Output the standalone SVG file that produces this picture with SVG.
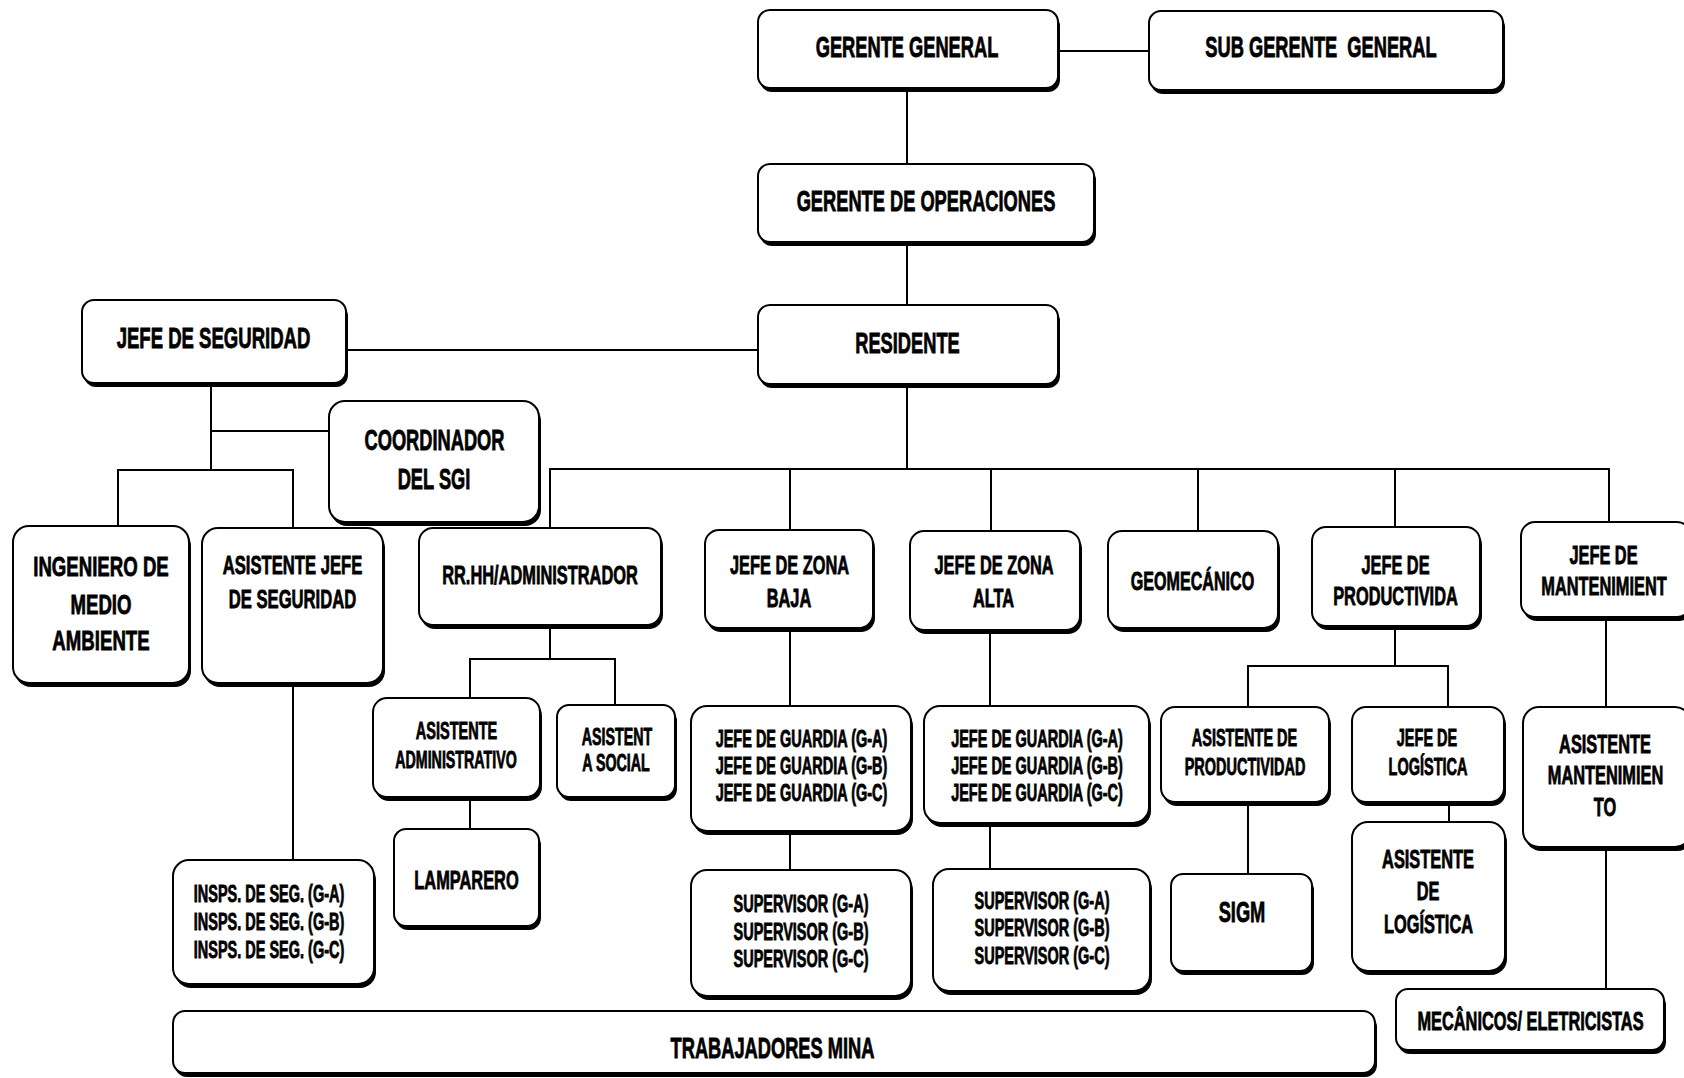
<svg xmlns="http://www.w3.org/2000/svg" width="1684" height="1078" viewBox="0 0 1684 1078">
<style>
.sh{fill:#000}
.bx{fill:#fff;stroke:#000;stroke-width:2}
.cn line{stroke:#000;stroke-width:2}
text{font-family:"Liberation Sans",Arial,sans-serif;font-weight:bold;fill:#000;stroke:#000;stroke-width:0.8;text-anchor:middle}
.L{font-size:29px}
.M{font-size:26px}
.S{font-size:23px}
</style>
<rect width="1684" height="1078" fill="#fff"/>
<g class="cn" id="connectors">
<line x1="1058" y1="51" x2="1149" y2="51"/>
<line x1="907" y1="88" x2="907" y2="164"/>
<line x1="907" y1="242" x2="907" y2="305"/>
<line x1="346" y1="350" x2="758" y2="350"/>
<line x1="907" y1="384" x2="907" y2="469"/>
<line x1="549" y1="469" x2="1610" y2="469"/>
<line x1="550" y1="469" x2="550" y2="528"/>
<line x1="790" y1="469" x2="790" y2="530"/>
<line x1="991" y1="469" x2="991" y2="531"/>
<line x1="1198" y1="469" x2="1198" y2="531"/>
<line x1="1395" y1="469" x2="1395" y2="527"/>
<line x1="1609" y1="468" x2="1609" y2="522"/>
<line x1="211" y1="383" x2="211" y2="471"/>
<line x1="211" y1="431" x2="329" y2="431"/>
<line x1="117" y1="470" x2="294" y2="470"/>
<line x1="118" y1="470" x2="118" y2="526"/>
<line x1="293" y1="470" x2="293" y2="528"/>
<line x1="550" y1="625" x2="550" y2="659"/>
<line x1="469" y1="659" x2="616" y2="659"/>
<line x1="470" y1="659" x2="470" y2="698"/>
<line x1="615" y1="659" x2="615" y2="705"/>
<line x1="470" y1="797" x2="470" y2="829"/>
<line x1="293" y1="683" x2="293" y2="860"/>
<line x1="790" y1="628" x2="790" y2="706"/>
<line x1="790" y1="831" x2="790" y2="870"/>
<line x1="990" y1="630" x2="990" y2="706"/>
<line x1="990" y1="823" x2="990" y2="869"/>
<line x1="1395" y1="626" x2="1395" y2="666"/>
<line x1="1247" y1="666" x2="1449" y2="666"/>
<line x1="1248" y1="666" x2="1248" y2="707"/>
<line x1="1448" y1="666" x2="1448" y2="707"/>
<line x1="1248" y1="802" x2="1248" y2="874"/>
<line x1="1449" y1="802" x2="1449" y2="822"/>
<line x1="1606" y1="617" x2="1606" y2="707"/>
<line x1="1606" y1="847" x2="1606" y2="989"/>
</g>

<g id="gerente-general">
<rect class="sh" x="760" y="14" width="300" height="78" rx="12"/>
<rect class="bx" x="758" y="10" width="300" height="78" rx="12"/>
<text class="L" transform="translate(907 57) scale(.63 1)">GERENTE GENERAL</text>
</g>
<g id="sub-gerente-general">
<rect class="sh" x="1151" y="15" width="354" height="79" rx="12"/>
<rect class="bx" x="1149" y="11" width="354" height="79" rx="12"/>
<text class="L" transform="translate(1321 57) scale(.63 1)" xml:space="preserve">SUB GERENTE  GENERAL</text>
</g>
<g id="gerente-operaciones">
<rect class="sh" x="760" y="168" width="336" height="78" rx="12"/>
<rect class="bx" x="758" y="164" width="336" height="78" rx="12"/>
<text class="L" transform="translate(926 211) scale(.63 1)">GERENTE DE OPERACIONES</text>
</g>
<g id="residente">
<rect class="sh" x="760" y="309" width="300" height="79" rx="12"/>
<rect class="bx" x="758" y="305" width="300" height="79" rx="12"/>
<text class="L" transform="translate(907.5 353) scale(.63 1)">RESIDENTE</text>
</g>
<g id="jefe-seguridad">
<rect class="sh" x="84" y="304" width="264" height="83" rx="12"/>
<rect class="bx" x="82" y="300" width="264" height="83" rx="12"/>
<text class="L" transform="translate(213.5 348) scale(.64 1)">JEFE DE SEGURIDAD</text>
</g>
<g id="coordinador-sgi">
<rect class="sh" x="331" y="405" width="210" height="121" rx="16"/>
<rect class="bx" x="329" y="401" width="210" height="121" rx="16"/>
<text class="L" transform="translate(434.5 450) scale(.63 1)">COORDINADOR</text>
<text class="L" transform="translate(434 489) scale(.63 1)">DEL SGI</text>
</g>
<g id="ingeniero-medio-ambiente">
<rect class="sh" x="15" y="530" width="176" height="157" rx="16"/>
<rect class="bx" x="13" y="526" width="176" height="157" rx="16"/>
<text font-size="27" transform="translate(101 576) scale(.69 1)">INGENIERO DE</text>
<text font-size="27" transform="translate(101 614) scale(.69 1)">MEDIO</text>
<text font-size="27" transform="translate(101 650) scale(.69 1)">AMBIENTE</text>
</g>
<g id="asistente-jefe-seguridad">
<rect class="sh" x="204" y="532" width="181" height="155" rx="16"/>
<rect class="bx" x="202" y="528" width="181" height="155" rx="16"/>
<text class="M" transform="translate(292.5 574) scale(.64 1)">ASISTENTE JEFE</text>
<text class="M" transform="translate(292.5 608) scale(.64 1)">DE SEGURIDAD</text>
</g>
<g id="rrhh-administrador">
<rect class="sh" x="421" y="532" width="242" height="97" rx="14"/>
<rect class="bx" x="419" y="528" width="242" height="97" rx="14"/>
<text class="M" transform="translate(540 584) scale(.63 1)">RR.HH/ADMINISTRADOR</text>
</g>
<g id="jefe-zona-baja">
<rect class="sh" x="707" y="534" width="168" height="98" rx="14"/>
<rect class="bx" x="705" y="530" width="168" height="98" rx="14"/>
<text class="M" transform="translate(789.5 574) scale(.63 1)">JEFE DE ZONA</text>
<text class="M" transform="translate(789 607) scale(.63 1)">BAJA</text>
</g>
<g id="jefe-zona-alta">
<rect class="sh" x="912" y="535" width="170" height="99" rx="14"/>
<rect class="bx" x="910" y="531" width="170" height="99" rx="14"/>
<text class="M" transform="translate(994 574) scale(.63 1)">JEFE DE ZONA</text>
<text class="M" transform="translate(993.5 607) scale(.63 1)">ALTA</text>
</g>
<g id="geomecanico">
<rect class="sh" x="1110" y="535" width="170" height="97" rx="14"/>
<rect class="bx" x="1108" y="531" width="170" height="97" rx="14"/>
<text class="M" transform="translate(1192.5 590) scale(.62 1)">GEOMECÁNICO</text>
</g>
<g id="jefe-productividad">
<rect class="sh" x="1314" y="531" width="168" height="99" rx="14"/>
<rect class="bx" x="1312" y="527" width="168" height="99" rx="14"/>
<text class="M" transform="translate(1395.5 574) scale(.63 1)">JEFE DE</text>
<text class="M" transform="translate(1395.5 605) scale(.63 1)">PRODUCTIVIDA</text>
</g>
<g id="jefe-mantenimiento">
<rect class="sh" x="1523" y="526" width="170" height="95" rx="14"/>
<rect class="bx" x="1521" y="522" width="170" height="95" rx="14"/>
<text class="M" transform="translate(1603.5 564) scale(.63 1)">JEFE DE</text>
<text class="M" transform="translate(1604 595) scale(.63 1)">MANTENIMIENT</text>
</g>
<g id="asistente-administrativo">
<rect class="sh" x="375" y="702" width="167" height="99" rx="14"/>
<rect class="bx" x="373" y="698" width="167" height="99" rx="14"/>
<text class="S" transform="translate(456.5 739) scale(.63 1)">ASISTENTE</text>
<text class="S" transform="translate(456 768) scale(.62 1)">ADMINISTRATIVO</text>
</g>
<g id="asistenta-social">
<rect class="sh" x="559" y="709" width="118" height="92" rx="12"/>
<rect class="bx" x="557" y="705" width="118" height="92" rx="12"/>
<text class="S" transform="translate(617 745) scale(.62 1)">ASISTENT</text>
<text class="S" transform="translate(616 771) scale(.62 1)">A SOCIAL</text>
</g>
<g id="lamparero">
<rect class="sh" x="396" y="833" width="145" height="97" rx="12"/>
<rect class="bx" x="394" y="829" width="145" height="97" rx="12"/>
<text class="M" transform="translate(466.5 889) scale(.63 1)">LAMPARERO</text>
</g>
<g id="inspectores-seguridad">
<rect class="sh" x="175" y="864" width="201" height="124" rx="16"/>
<rect class="bx" x="173" y="860" width="201" height="124" rx="16"/>
<text class="S" transform="translate(269 902) scale(.63 1)">INSPS. DE SEG. (G-A)</text>
<text class="S" transform="translate(269 930) scale(.63 1)">INSPS. DE SEG. (G-B)</text>
<text class="S" transform="translate(269 958) scale(.63 1)">INSPS. DE SEG. (G-C)</text>
</g>
<g id="jefes-guardia-baja">
<rect class="sh" x="693" y="710" width="220" height="125" rx="16"/>
<rect class="bx" x="691" y="706" width="220" height="125" rx="16"/>
<text class="S" transform="translate(801.5 747) scale(.63 1)">JEFE DE GUARDIA (G-A)</text>
<text class="S" transform="translate(801.5 774) scale(.63 1)">JEFE DE GUARDIA (G-B)</text>
<text class="S" transform="translate(801.5 801) scale(.63 1)">JEFE DE GUARDIA (G-C)</text>
</g>
<g id="jefes-guardia-alta">
<rect class="sh" x="926" y="710" width="225" height="117" rx="16"/>
<rect class="bx" x="924" y="706" width="225" height="117" rx="16"/>
<text class="S" transform="translate(1037 747) scale(.63 1)">JEFE DE GUARDIA (G-A)</text>
<text class="S" transform="translate(1037 774) scale(.63 1)">JEFE DE GUARDIA (G-B)</text>
<text class="S" transform="translate(1037 801) scale(.63 1)">JEFE DE GUARDIA (G-C)</text>
</g>
<g id="supervisores-baja">
<rect class="sh" x="693" y="874" width="220" height="126" rx="16"/>
<rect class="bx" x="691" y="870" width="220" height="126" rx="16"/>
<text class="S" transform="translate(801 912) scale(.63 1)">SUPERVISOR (G-A)</text>
<text class="S" transform="translate(801 940) scale(.63 1)">SUPERVISOR (G-B)</text>
<text class="S" transform="translate(801 967) scale(.63 1)">SUPERVISOR (G-C)</text>
</g>
<g id="supervisores-alta">
<rect class="sh" x="935" y="873" width="217" height="122" rx="16"/>
<rect class="bx" x="933" y="869" width="217" height="122" rx="16"/>
<text class="S" transform="translate(1042 909) scale(.63 1)">SUPERVISOR (G-A)</text>
<text class="S" transform="translate(1042 936) scale(.63 1)">SUPERVISOR (G-B)</text>
<text class="S" transform="translate(1042 964) scale(.63 1)">SUPERVISOR (G-C)</text>
</g>
<g id="asistente-productividad">
<rect class="sh" x="1163" y="711" width="168" height="95" rx="14"/>
<rect class="bx" x="1161" y="707" width="168" height="95" rx="14"/>
<text class="S" transform="translate(1244.5 746) scale(.63 1)">ASISTENTE DE</text>
<text class="S" transform="translate(1245 775) scale(.63 1)">PRODUCTIVIDAD</text>
</g>
<g id="jefe-logistica">
<rect class="sh" x="1354" y="711" width="152" height="95" rx="14"/>
<rect class="bx" x="1352" y="707" width="152" height="95" rx="14"/>
<text class="S" transform="translate(1427 746) scale(.63 1)">JEFE DE</text>
<text class="S" transform="translate(1428 775) scale(.63 1)">LOGÍSTICA</text>
</g>
<g id="sigm">
<rect class="sh" x="1173" y="878" width="141" height="97" rx="12"/>
<rect class="bx" x="1171" y="874" width="141" height="97" rx="12"/>
<text class="L" transform="translate(1242 922) scale(.63 1)">SIGM</text>
</g>
<g id="asistente-logistica">
<rect class="sh" x="1354" y="826" width="153" height="149" rx="16"/>
<rect class="bx" x="1352" y="822" width="153" height="149" rx="16"/>
<text class="M" transform="translate(1428 868) scale(.63 1)">ASISTENTE</text>
<text class="M" transform="translate(1428 900) scale(.63 1)">DE</text>
<text class="M" transform="translate(1428.5 933) scale(.63 1)">LOGÍSTICA</text>
</g>
<g id="asistente-mantenimiento">
<rect class="sh" x="1525" y="711" width="168" height="140" rx="16"/>
<rect class="bx" x="1523" y="707" width="168" height="140" rx="16"/>
<text class="M" transform="translate(1605 753) scale(.63 1)">ASISTENTE</text>
<text class="M" transform="translate(1605.5 784) scale(.63 1)">MANTENIMIEN</text>
<text class="M" transform="translate(1605 816) scale(.63 1)">TO</text>
</g>
<g id="mecanicos-electricistas">
<rect class="sh" x="1398" y="993" width="268" height="61" rx="12"/>
<rect class="bx" x="1396" y="989" width="268" height="61" rx="12"/>
<text class="M" transform="translate(1530.5 1030) scale(.63 1)">MECÂNICOS/ ELETRICISTAS</text>
</g>
<g id="trabajadores-mina">
<rect class="sh" x="175" y="1015" width="1202" height="62" rx="12"/>
<rect class="bx" x="173" y="1011" width="1202" height="62" rx="12"/>
<text class="L" transform="translate(772.5 1058) scale(.63 1)">TRABAJADORES MINA</text>
</g>
</svg>
